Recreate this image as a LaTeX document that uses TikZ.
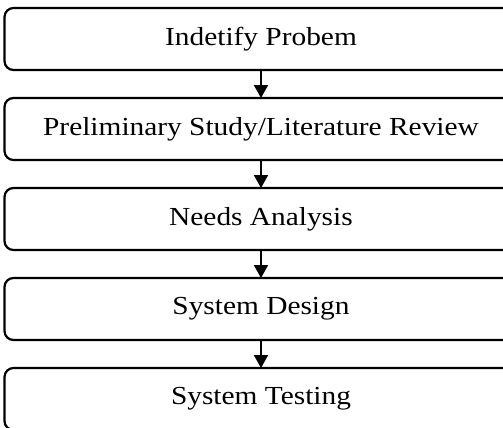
\documentclass[tikz,border=0pt]{standalone}
\usepackage{fontspec}
\setmainfont{Liberation Serif}[FakeStretch=1.13]
\usetikzlibrary{arrows.meta,positioning}

\begin{document}
\begin{tikzpicture}[
		x=1pt, y=1pt,
		>={Triangle[length=13pt, width=14pt]},
		font=\fontsize{26}{30}\selectfont,
		block/.style={draw=black, fill=white, rounded corners=9pt,
				minimum width=513pt, minimum height=62pt, align=center,
				line width=2.2pt, outer sep=0pt},
		link/.style={->, line width=2pt},
	]

	% frame of the page
	\clip (0, 0) rectangle (503, -428);

	\node[block] (problem) at (261, -39) {Indetify Probem};
	\node[block, below=28pt of problem] (study) {Preliminary Study/Literature Review};
	\node[block, below=28pt of study] (needs) {Needs Analysis};
	\node[block, below=28pt of needs] (design) {System Design};
	\node[block, below=28pt of design] (testing) {System Testing};

	\draw[link] (problem) -- (study);
	\draw[link] (study) -- (needs);
	\draw[link] (needs) -- (design);
	\draw[link] (design) -- (testing);

\end{tikzpicture}
\end{document}
